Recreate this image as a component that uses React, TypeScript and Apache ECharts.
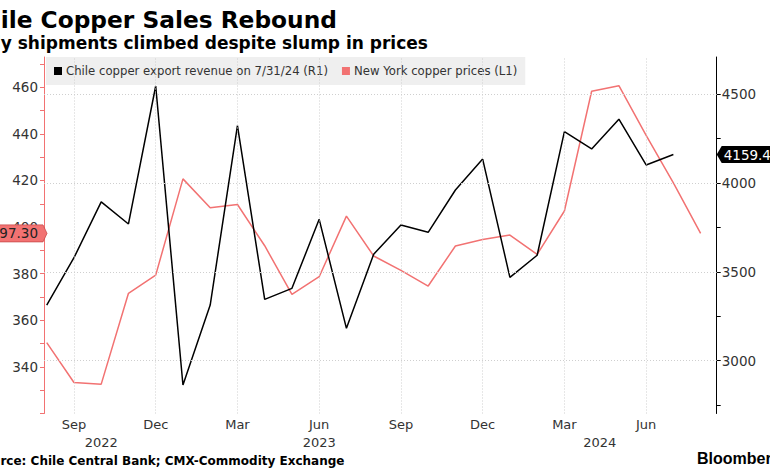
import React, { useEffect, useRef } from 'react';
import * as echarts from 'echarts';

// x positions are month indexes counted from Sep 2022 (= 0)
const monthLabels = ['Sep', 'Dec', 'Mar', 'Jun', 'Sep', 'Dec', 'Mar', 'Jun'];
const monthPositions = [0, 3, 6, 9, 12, 15, 18, 21];
const yearLabels = ['2022', '2023', '2024'];
const yearPositions = [1, 9, 19.3];
const firstMonth = -1; // first observation: end of Jul 2022

// Chile copper export revenue (R1), monthly, Jul 2022 .. Jul 2024
const chileRevenue = [
  3313, 3579, 3893, 3769, 4545, 2863, 3313, 4322, 3345, 3407, 3795, 3182,
  3598, 3763, 3722, 3960, 4134, 3469, 3593, 4288, 4191, 4358, 4101, 4159.4,
];
// New York copper prices (L1), monthly, Jul 2022 .. Aug 2024
const nyCopper = [
  350.4, 333.3, 332.6, 371.6, 379.4, 420.7, 408.3, 409.7, 392, 371.1, 378.7,
  404.7, 387.6, 381.4, 374.7, 391.9, 394.7, 396.6, 388.3, 406.9, 458.3, 460.7,
  439.4, 419.0, 397.3,
];

const leftTicks = [320, 330, 340, 350, 360, 370, 380, 390, 400, 410, 420, 430, 440, 450, 460, 470];
const leftLabels = [340, 360, 380, 400, 420, 440, 460];
const rightTicks = [2750, 3000, 3250, 3500, 3750, 4000, 4250, 4500];
const rightLabels = [3000, 3500, 4000, 4500];

const RED = '#f27272';
const FONT = 'DejaVu Sans';

export default function App() {
  const ref = useRef<HTMLDivElement>(null);
  useEffect(() => {
    const chart = echarts.init(ref.current!, null, { renderer: 'svg' });
    const chileData = chileRevenue.map((v, i) => [firstMonth + i, v]);
    const nyData = nyCopper.map((v, i) => [firstMonth + i, v]);
    const xMin = -1.1;
    const xMax = 23.59;
    const option: any = {
      animation: false,
      backgroundColor: '#ffffff',
      textStyle: { fontFamily: FONT },
      grid: { left: 44, right: 53.3, top: 57, bottom: 56.5, containLabel: false },
      legend: {
        left: 46,
        top: 57,
        padding: [8, 8, 8, 8],
        backgroundColor: '#efefef',
        itemWidth: 8,
        itemHeight: 8,
        itemGap: 14,
        icon: 'rect',
        textStyle: { fontSize: 11.7, color: '#333', fontFamily: FONT, padding: [0, 0, 0, -1] },
        data: [
          { name: 'Chile copper export revenue on 7/31/24 (R1)', itemStyle: { color: '#000' } },
          { name: 'New York copper prices (L1)', itemStyle: { color: RED } },
        ],
      },
      xAxis: [
        {
          type: 'value',
          min: xMin,
          max: xMax,
          position: 'bottom',
          axisLine: { show: false, onZero: false },
          axisTick: { show: false },
          splitLine: { show: false },
          axisLabel: {
            customValues: monthPositions,
            formatter: (v: number) => monthLabels[monthPositions.indexOf(v)] ?? '',
            color: '#333',
            fontSize: 13,
            fontFamily: FONT,
            margin: 4,
          },
        },
        {
          type: 'value',
          min: xMin,
          max: xMax,
          position: 'bottom',
          offset: 18,
          axisLine: { show: false, onZero: false },
          axisTick: { show: false },
          splitLine: { show: false },
          axisLabel: {
            customValues: yearPositions,
            formatter: (v: number) => yearLabels[yearPositions.indexOf(v)] ?? '',
            color: '#333',
            fontSize: 13,
            fontFamily: FONT,
            margin: 4,
          },
        },
      ],
      yAxis: [
        {
          type: 'value',
          position: 'left',
          min: 320,
          max: 473,
          axisLine: { show: true, onZero: false, lineStyle: { color: RED, width: 1 } },
          axisTick: { show: true, customValues: leftTicks, length: 4, lineStyle: { color: RED } },
          splitLine: { show: false },
          axisLabel: {
            customValues: leftLabels,
            formatter: (v: number) => String(v),
            color: '#333',
            fontSize: 13.5,
            fontFamily: FONT,
            margin: 6,
          },
        },
        {
          type: 'value',
          position: 'right',
          min: 2703,
          max: 4708,
          axisLine: { show: true, onZero: false, lineStyle: { color: '#000', width: 1 } },
          axisTick: { show: true, customValues: rightTicks, length: 4, lineStyle: { color: '#000' } },
          splitLine: { show: false },
          axisLabel: {
            customValues: rightLabels,
            formatter: (v: number) => String(v),
            color: '#333',
            fontSize: 13.5,
            fontFamily: FONT,
            margin: 5,
          },
        },
      ],
      series: [
        {
          name: 'gridlines',
          type: 'line',
          xAxisIndex: 0,
          yAxisIndex: 1,
          data: chileData,
          symbol: 'none',
          silent: true,
          z: 0,
          lineStyle: { opacity: 0 },
          markLine: {
            silent: true,
            symbol: 'none',
            label: { show: false },
            lineStyle: { color: '#cfcfcf', type: [1, 2], width: 1 },
            data: [
              ...monthPositions.map((v) => ({ xAxis: v })),
              ...rightLabels.map((v) => ({ yAxis: v })),
            ],
          },
        },
        {
          name: 'New York copper prices (L1)',
          type: 'line',
          xAxisIndex: 0,
          yAxisIndex: 0,
          data: nyData,
          symbol: 'none',
          z: 3,
          lineStyle: { color: RED, width: 1.5 },
          itemStyle: { color: RED },
        },
        {
          name: 'Chile copper export revenue on 7/31/24 (R1)',
          type: 'line',
          xAxisIndex: 0,
          yAxisIndex: 1,
          data: chileData,
          symbol: 'none',
          z: 4,
          lineStyle: { color: '#000', width: 1.5 },
          itemStyle: { color: '#000' },
        },
      ],
    };
    chart.setOption(option);

    const nyLast = nyCopper[nyCopper.length - 1];
    const chileLast = chileRevenue[chileRevenue.length - 1];
    const yL = chart.convertToPixel({ yAxisIndex: 0 }, nyLast) as number;
    const yR = chart.convertToPixel({ yAxisIndex: 1 }, chileLast) as number;
    const axL = chart.convertToPixel({ xAxisIndex: 0 }, xMin) as number;
    const axR = chart.convertToPixel({ xAxisIndex: 0 }, xMax) as number;
    const h = 8.5;

    chart.setOption({
      graphic: [
        {
          type: 'text',
          x: -33,
          y: 19,
          style: {
            text: 'Chile Copper Sales Rebound',
            fontFamily: FONT,
            fontWeight: 'bold',
            fontSize: 23.3,
            fill: '#000',
            verticalAlign: 'middle',
          },
        },
        {
          type: 'text',
          x: -66,
          y: 42.6,
          style: {
            text: 'Monthly shipments climbed despite slump in prices',
            fontFamily: FONT,
            fontWeight: 'bold',
            fontSize: 17,
            fill: '#000',
            verticalAlign: 'middle',
          },
        },
        {
          type: 'text',
          x: -25,
          y: 460.5,
          style: {
            text: 'Source: Chile Central Bank; CMX-Commodity Exchange',
            fontFamily: FONT,
            fontWeight: 'bold',
            fontSize: 12,
            fill: '#000',
            verticalAlign: 'middle',
          },
        },
        {
          type: 'text',
          x: 697,
          y: 458,
          style: {
            text: 'Bloomberg',
            fontFamily: 'Liberation Sans',
            fontWeight: 'bold',
            fontSize: 16,
            fill: '#000',
            verticalAlign: 'middle',
          },
        },
        {
          type: 'polygon',
          z: 100,
          shape: {
            points: [
              [-5, yL - h],
              [axL - 1, yL - h],
              [axL + 3, yL],
              [axL - 1, yL + h],
              [-5, yL + h],
            ],
          },
          style: { fill: RED, stroke: '#c84a4a', lineWidth: 0.8 },
        },
        {
          type: 'text',
          z: 101,
          x: axL - 6,
          y: yL,
          style: {
            text: nyLast.toFixed(2),
            fontFamily: FONT,
            fontSize: 13.5,
            fill: '#222',
            align: 'right',
            verticalAlign: 'middle',
          },
        },
        {
          type: 'polygon',
          z: 100,
          shape: {
            points: [
              [axR, yR],
              [axR + 5, yR - h],
              [775, yR - h],
              [775, yR + h],
              [axR + 5, yR + h],
            ],
          },
          style: { fill: '#000' },
        },
        {
          type: 'text',
          z: 101,
          x: axR + 7,
          y: yR,
          style: {
            text: chileLast.toFixed(1),
            fontFamily: FONT,
            fontSize: 13.5,
            fill: '#fff',
            align: 'left',
            verticalAlign: 'middle',
          },
        },
      ],
    });
    return () => chart.dispose();
  }, []);
  return (
    <div
      ref={ref}
      style={{ position: 'fixed', left: 0, top: 0, width: 770, height: 470, background: '#fff' }}
    />
  );
}
